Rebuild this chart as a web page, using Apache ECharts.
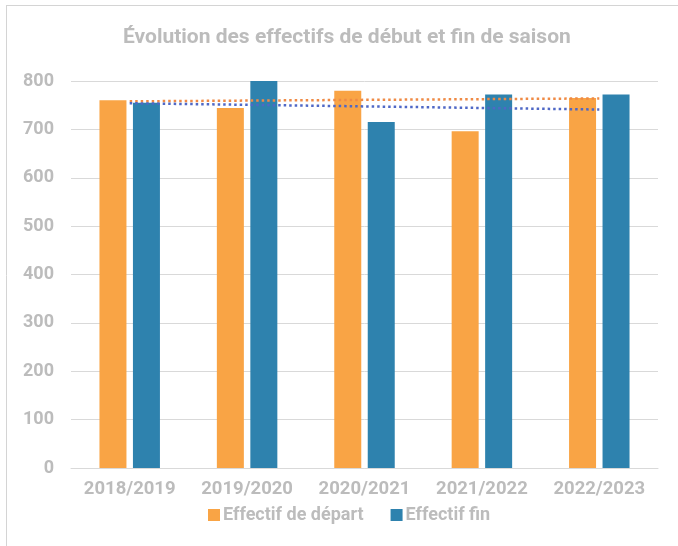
<!DOCTYPE html>
<html>
<head>
<meta charset="utf-8">
<script src="https://cdn.jsdelivr.net/npm/echarts@6/dist/echarts.min.js"></script>
<style>
  html, body { margin: 0; padding: 0; background: #fff; }
  #chart { width: 678px; height: 546px; }
</style>
</head>
<body>
<div id="chart"></div>
<script>
// data
const categories = ['2018/2019', '2019/2020', '2020/2021', '2021/2022', '2022/2023'];
const departValues = [760, 744, 780, 696, 765];
const finValues = [755, 800, 715, 772, 772];
// linear trend lines: value at first and last season
const trendDepart = [758, 764];
const trendFin = [754, 741];

const gray = '#bcbcbc';
const font = 'Roboto';

const chart = echarts.init(document.getElementById('chart'));
chart.setOption({
  animation: false,
  title: {
    text: 'Évolution des effectifs de début et fin de saison',
    left: 118,
    top: 22,
    textStyle: { color: gray, fontFamily: font, fontWeight: 'bold', fontSize: 21 }
  },
  legend: {
    data: ['Effectif de départ', 'Effectif fin'],
    left: 208,
    top: 506,
    padding: 0,
    itemWidth: 12,
    itemHeight: 12,
    itemGap: 27,
    icon: 'rect',
    textStyle: { color: gray, fontFamily: font, fontWeight: 'bold', fontSize: 18, padding: [0, 0, 0, -2] }
  },
  grid: { left: 71, right: 20, top: 81, bottom: 78 },
  xAxis: {
    type: 'category',
    data: categories,
    axisTick: { show: false },
    axisLine: { lineStyle: { color: '#d9d9d9' } },
    axisLabel: { interval: 0, color: gray, fontFamily: font, fontWeight: 'bold', fontSize: 18.5, margin: 12 }
  },
  yAxis: {
    type: 'value',
    min: 0,
    max: 800,
    interval: 100,
    axisLabel: { color: gray, fontFamily: font, fontWeight: 'bold', fontSize: 18, margin: 17 },
    splitLine: { lineStyle: { color: '#d9d9d9' } }
  },
  graphic: [
    { type: 'line', shape: { x1: 6.5, y1: 5, x2: 6.5, y2: 546 }, style: { stroke: '#d4d4d4', lineWidth: 1 } },
    { type: 'line', shape: { x1: 6, y1: 5.5, x2: 678, y2: 5.5 }, style: { stroke: '#d4d4d4', lineWidth: 1 } }
  ],
  series: [
    {
      name: 'Effectif de départ',
      type: 'bar',
      data: departValues,
      barWidth: 27,
      barGap: '24%',
      itemStyle: { color: '#f9a445' }
    },
    {
      name: 'Effectif fin',
      type: 'bar',
      data: finValues,
      barWidth: 27,
      itemStyle: { color: '#2e82ae' }
    },
    {
      name: 'Tendance départ',
      type: 'line',
      data: [[0, trendDepart[0]], [categories.length - 1, trendDepart[1]]],
      symbol: 'none',
      silent: true,
      lineStyle: { color: '#ef8a45', width: 2.5, type: [2.5, 3] }
    },
    {
      name: 'Tendance fin',
      type: 'line',
      data: [[0, trendFin[0]], [categories.length - 1, trendFin[1]]],
      symbol: 'none',
      silent: true,
      lineStyle: { color: '#4f68c6', width: 2.5, type: [2.5, 3] }
    }
  ]
});
</script>
</body>
</html>
